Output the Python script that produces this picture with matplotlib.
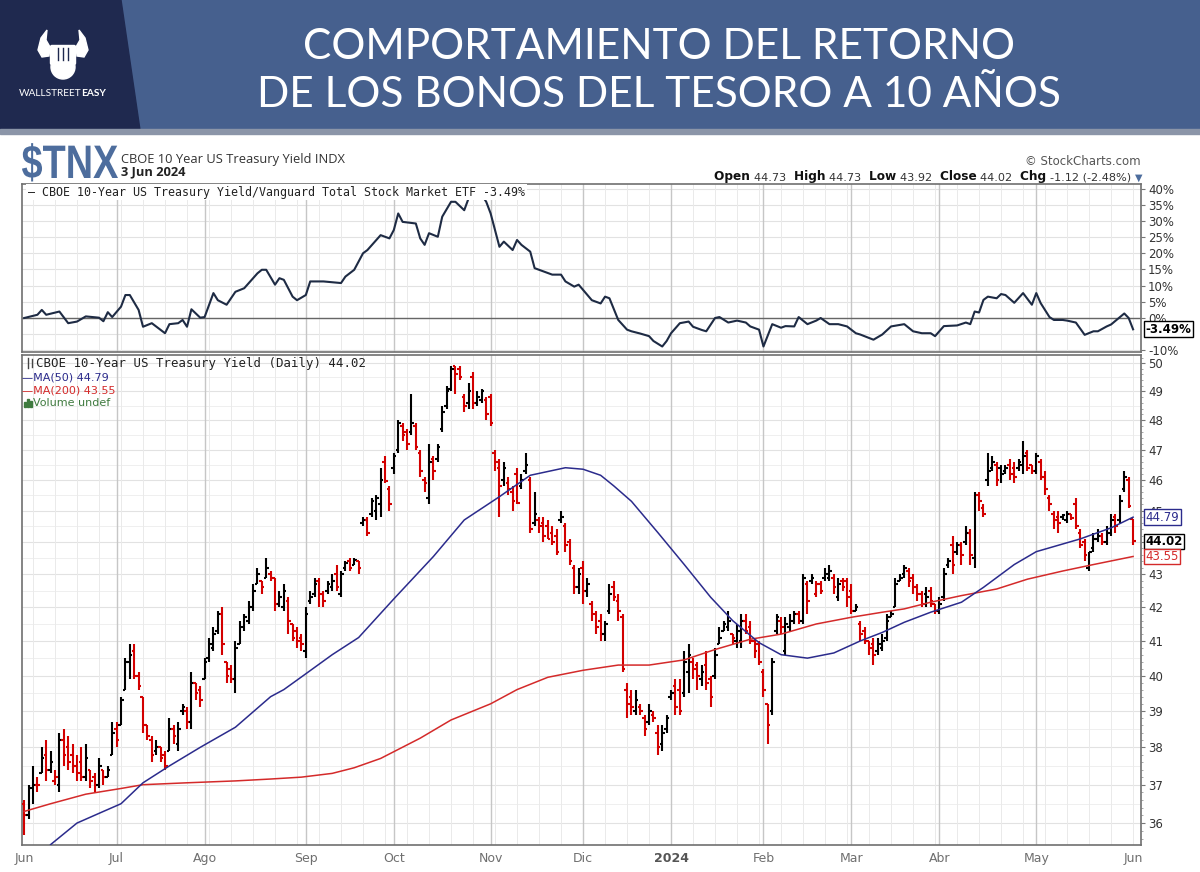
import numpy as np
import matplotlib
matplotlib.use("Agg")
import matplotlib.pyplot as plt
from matplotlib.collections import LineCollection
from matplotlib.patches import Polygon, Rectangle, Circle, FancyBboxPatch, PathPatch
from matplotlib.ticker import FixedLocator, NullFormatter
from matplotlib.textpath import TextPath
from matplotlib.font_manager import FontProperties
from matplotlib.transforms import Affine2D

W, H = 1200, 872

# daily bars, 1 Jun 2023 .. 3 Jun 2024 (yield x10)
opens = [
    36.5, 36.2, 36.9, 37.0, 37.3, 37.8, 37.4, 37.1, 37.0, 38.2, 38.0, 37.8, 37.5, 37.6, 37.2, 37.4, 37.2, 37.0, 37.4, 37.2, 37.8,
    38.5, 38.6, 39.6, 40.4, 40.7, 40.0, 39.4, 38.6, 38.2, 37.9, 38.0, 37.8, 37.9, 38.5, 38.1, 39.0, 39.0, 38.7, 39.8, 39.6,
    39.9, 40.5, 40.8, 41.3, 41.8, 40.4, 40.2, 39.9, 40.9, 41.4, 41.6, 42.0, 42.7, 42.8, 42.9, 43.0, 42.9, 42.1, 42.0, 42.2, 41.5, 41.3, 41.1,
    40.7, 42.2, 42.4, 42.8, 42.4, 42.5, 42.6, 43.0, 42.4, 43.2, 43.4, 43.3, 43.4, 44.6, 44.7, 44.9, 45.0, 45.2, 46.6, 45.7,
    46.4, 47.0, 47.8, 47.6, 47.6, 47.8, 46.9, 46.0, 45.4, 46.7, 46.7, 47.7, 48.5, 49.1, 49.9, 49.8, 48.8, 48.6, 49.5, 48.6, 48.7, 48.7,
    48.8, 46.9, 46.4, 46.0, 45.9, 45.6, 46.2, 45.8, 46.3, 46.0, 44.6, 44.7, 44.6, 44.5, 44.3, 44.2, 44.7, 44.5, 44.0, 43.2, 42.6,
    43.2, 42.5, 42.1, 41.8, 41.6, 41.2, 41.9, 42.6, 42.2, 41.7, 39.6, 39.4, 39.0, 39.1, 38.8, 38.7, 38.9, 38.4, 38.1, 38.5,
    39.4, 39.7, 39.6, 39.5, 40.1, 40.4, 40.3, 39.9, 40.3, 39.9, 40.0, 40.9, 41.3, 41.4, 41.2, 41.0, 41.0, 41.6, 41.4, 41.0, 40.9,
    40.1, 39.2, 39.0, 41.3, 41.6, 40.7, 41.4, 41.6, 41.8, 41.6, 42.7, 42.8, 42.4, 42.7, 42.9, 42.9, 42.9, 42.3, 42.8, 42.8,
    42.5, 41.9, 41.5, 41.3, 41.0, 40.9, 40.7, 40.8, 41.1, 41.7, 42.0, 42.8, 43.0, 43.1, 42.9, 42.6, 42.4, 42.4, 42.5, 42.1,
    41.9, 42.3, 43.3, 43.9, 43.7, 43.9, 44.0, 44.3, 43.5, 45.5, 45.1, 46.0, 46.4, 46.5, 46.4, 46.3, 46.5, 46.4, 46.4, 46.5, 46.9, 46.5,
    46.3, 46.6, 46.1, 45.4, 44.9, 44.8, 44.8, 44.7, 44.9, 45.2, 44.3, 44.0, 43.2, 43.8, 44.1, 44.2, 44.0, 44.3, 44.8, 44.7, 45.7, 46.0,
    44.73,
]
highs = [
    36.6, 37.0, 37.5, 37.2, 38.0, 38.2, 37.9, 37.4, 38.4, 38.5, 38.3, 38.1, 37.8, 38.0, 38.1, 37.4, 37.3, 37.7, 37.4, 37.5, 38.7,
    38.7, 39.4, 40.5, 40.9, 40.9, 40.1, 39.4, 38.6, 38.3, 38.2, 38.0, 37.9, 38.8, 38.6, 38.7, 39.2, 39.1, 40.1, 39.8, 39.7,
    40.5, 41.1, 41.4, 41.9, 42.0, 40.4, 40.3, 41.0, 41.6, 41.8, 42.2, 42.7, 43.2, 42.8, 43.5, 43.1, 42.9, 42.5, 42.7, 42.3, 41.5, 41.4, 41.2,
    42.0, 42.5, 42.9, 42.9, 42.5, 42.8, 43.0, 43.3, 43.1, 43.4, 43.5, 43.5, 43.4, 44.8, 44.8, 45.4, 45.5, 46.4, 46.8, 45.8,
    46.9, 48.0, 47.9, 47.7, 48.9, 47.9, 47.0, 46.1, 47.2, 46.8, 47.2, 48.5, 49.2, 49.9, 49.9, 49.9, 48.9, 49.3, 49.7, 49.0, 49.1, 48.8,
    48.9, 47.0, 46.7, 46.6, 46.1, 45.8, 46.4, 46.2, 46.9, 46.1, 45.6, 44.8, 44.8, 44.7, 44.5, 44.4, 45.0, 44.6, 44.1, 43.3, 43.2,
    43.4, 42.9, 42.2, 41.9, 41.8, 41.6, 42.7, 42.8, 42.4, 41.8, 39.8, 39.6, 39.6, 39.2, 38.9, 39.2, 39.0, 38.6, 38.6, 38.9,
    39.6, 39.9, 39.9, 40.7, 40.9, 40.5, 40.4, 40.3, 40.7, 40.0, 40.8, 41.4, 41.6, 41.9, 41.2, 41.5, 41.8, 41.8, 41.6, 41.1, 41.0,
    40.2, 39.2, 40.5, 41.8, 41.7, 41.7, 41.8, 41.9, 41.9, 43.0, 42.8, 43.0, 42.8, 42.8, 43.2, 43.3, 43.0, 42.9, 42.9, 42.9,
    42.7, 42.1, 41.6, 41.4, 41.0, 41.1, 41.1, 41.2, 41.8, 41.9, 42.9, 43.0, 43.3, 43.2, 43.0, 42.7, 42.5, 42.6, 42.6, 42.1,
    42.3, 43.2, 43.5, 44.2, 44.0, 44.0, 44.5, 44.4, 45.6, 45.6, 45.2, 46.9, 46.8, 46.6, 46.5, 46.5, 46.7, 46.6, 46.7, 47.3, 47.0, 46.5,
    46.9, 46.7, 46.3, 45.5, 45.0, 45.0, 44.9, 45.0, 44.9, 45.4, 44.4, 44.1, 43.7, 44.3, 44.4, 44.3, 44.5, 44.9, 44.9, 45.5, 46.3, 46.1,
    44.73,
]
lows = [
    35.7, 36.1, 36.5, 36.8, 37.3, 37.1, 37.3, 37.0, 36.8, 37.5, 37.4, 37.3, 37.1, 37.1, 37.1, 36.9, 36.8, 36.9, 37.0, 37.2, 37.8,
    38.0, 38.6, 39.6, 39.9, 39.9, 39.6, 38.4, 38.2, 37.6, 37.8, 37.6, 37.4, 37.9, 38.1, 37.9, 38.9, 38.5, 38.5, 39.3, 39.1,
    39.9, 40.4, 40.7, 41.2, 40.6, 39.8, 39.8, 39.5, 40.9, 41.3, 41.5, 41.9, 42.7, 42.4, 42.9, 42.8, 41.9, 42.0, 41.9, 41.2, 41.0, 40.8, 40.7,
    40.5, 42.1, 42.3, 42.0, 42.0, 42.4, 42.5, 42.5, 42.3, 43.1, 43.1, 43.3, 43.0, 44.5, 44.2, 44.8, 44.7, 44.8, 45.9, 45.0,
    46.2, 46.9, 47.3, 47.0, 47.5, 47.0, 46.1, 45.6, 45.2, 46.0, 46.6, 47.6, 48.4, 49.0, 48.9, 49.4, 48.3, 48.4, 48.4, 48.5, 48.6, 48.0,
    47.8, 46.3, 44.8, 45.8, 45.5, 45.0, 45.2, 45.7, 46.2, 44.3, 44.5, 44.3, 44.0, 44.1, 43.9, 43.6, 44.6, 43.7, 43.3, 42.4, 42.4,
    42.1, 42.3, 41.6, 41.2, 41.0, 41.0, 41.8, 42.2, 41.6, 40.1, 38.8, 38.9, 38.9, 38.9, 38.3, 38.6, 38.7, 37.8, 37.9, 38.4,
    39.3, 38.9, 38.9, 39.4, 39.5, 39.9, 39.6, 39.7, 39.6, 39.1, 39.9, 40.9, 41.3, 41.3, 40.9, 40.8, 40.8, 41.2, 40.9, 40.5, 40.3,
    39.4, 38.1, 38.9, 41.2, 41.2, 40.6, 41.3, 41.5, 41.5, 41.5, 41.8, 42.7, 42.3, 42.4, 42.8, 42.8, 42.4, 42.2, 42.5, 42.0,
    41.8, 41.9, 41.0, 40.9, 40.6, 40.3, 40.6, 40.7, 41.0, 41.7, 42.0, 42.8, 42.9, 42.6, 42.4, 42.2, 42.0, 42.0, 42.0, 41.8,
    41.8, 42.2, 43.2, 43.0, 43.6, 43.3, 43.9, 43.3, 43.2, 45.0, 44.8, 45.8, 46.3, 45.8, 45.9, 46.2, 46.0, 45.9, 46.3, 46.2, 46.3, 46.2,
    46.2, 46.0, 45.5, 45.0, 44.4, 44.3, 44.7, 44.6, 44.7, 44.4, 43.8, 43.4, 43.1, 43.7, 44.0, 43.9, 43.9, 44.2, 44.3, 44.6, 45.6, 45.1,
    43.92,
]
closes = [
    36.2, 36.9, 37.0, 37.0, 37.7, 37.4, 37.6, 37.2, 38.2, 37.8, 37.6, 37.5, 37.3, 37.2, 37.7, 37.1, 37.0, 37.5, 37.2, 37.4, 38.4,
    38.2, 39.3, 40.4, 40.6, 40.0, 39.7, 38.6, 38.3, 37.8, 38.0, 37.7, 37.5, 38.5, 38.3, 38.5, 39.1, 38.7, 39.8, 39.5, 39.3,
    40.4, 40.9, 41.2, 41.8, 40.9, 40.0, 39.9, 40.8, 41.4, 41.7, 42.0, 42.5, 43.0, 42.6, 43.2, 42.9, 42.1, 42.3, 42.5, 41.6, 41.1, 41.0, 40.9,
    41.8, 42.3, 42.7, 42.4, 42.2, 42.7, 42.8, 42.6, 43.0, 43.35, 43.2, 43.45, 43.2, 44.7, 44.3, 45.3, 45.4, 46.0, 45.95, 45.2,
    46.8, 47.9, 47.5, 47.2, 47.9, 47.1, 46.3, 45.9, 46.6, 46.3, 47.1, 48.3, 49.0, 49.8, 49.6, 49.5, 48.5, 49.0, 48.6, 48.8, 49.0, 48.2,
    47.9, 46.6, 45.8, 46.4, 45.7, 45.3, 45.25, 46.0, 46.5, 44.4, 44.9, 44.5, 44.2, 44.1, 44.0, 43.7, 44.8, 43.9, 43.4, 42.6, 43.0,
    42.5, 42.7, 41.8, 41.4, 41.2, 41.5, 42.4, 42.3, 41.9, 40.2, 39.2, 39.1, 39.3, 39.0, 38.5, 39.0, 38.8, 38.0, 38.4, 38.8,
    39.5, 39.1, 39.0, 40.4, 40.6, 40.2, 40.0, 40.1, 39.8, 39.4, 40.6, 41.1, 41.5, 41.6, 41.1, 41.3, 41.6, 41.3, 41.0, 40.7, 40.4,
    39.6, 38.6, 40.4, 41.7, 41.4, 41.5, 41.6, 41.8, 41.6, 42.9, 42.2, 42.9, 42.7, 42.5, 43.0, 43.1, 42.6, 42.7, 42.6, 42.3,
    41.9, 42.0, 41.2, 41.0, 40.8, 40.6, 40.9, 41.0, 41.6, 41.8, 42.7, 42.9, 43.2, 42.8, 42.6, 42.4, 42.1, 42.3, 42.2, 41.9,
    42.1, 43.0, 43.4, 43.3, 43.9, 43.6, 44.3, 43.6, 45.5, 45.3, 44.9, 46.3, 46.6, 46.0, 46.2, 46.4, 46.2, 46.1, 46.6, 46.8, 46.4, 46.3,
    46.8, 46.1, 45.7, 45.2, 44.7, 44.6, 44.85, 44.9, 44.75, 44.5, 43.9, 43.6, 43.7, 44.1, 44.2, 44.0, 44.3, 44.7, 44.5, 45.3, 46.1, 45.14,
    44.02,
]

month_labels = ["Jun", "Jul", "Ago", "Sep", "Oct", "Nov", "Dic", "2024", "Feb", "Mar", "Abr", "May", "Jun"]
month_starts = [0, 21, 41, 64, 84, 106, 127, 147, 168, 188, 208, 230, 252]

# moving averages (bar index, value)
ma50_idx = [6, 12, 18, 22, 27, 33, 40, 48, 56, 59, 64, 70, 76, 84, 93, 100, 108, 115, 123, 127, 131, 134, 138, 144, 150,
            156, 161, 167, 172, 178, 184, 190, 195, 200, 206, 213, 218, 225, 230, 240, 247, 252]
ma50_val = [35.45, 36.0, 36.3, 36.5, 37.05, 37.5, 38.0, 38.55, 39.4, 39.6, 40.05, 40.6, 41.1, 42.25, 43.55, 44.7, 45.45,
            46.15, 46.4, 46.35, 46.15, 45.8, 45.3, 44.3, 43.3, 42.3, 41.6, 40.95, 40.6, 40.5, 40.65, 41.0, 41.25, 41.55,
            41.85, 42.15, 42.6, 43.3, 43.7, 44.1, 44.45, 44.79]
ma200_idx = [0, 6, 14, 22, 27, 37, 48, 56, 63, 70, 75, 81, 90, 97, 106, 112, 119, 127, 135, 142, 150, 157, 165, 172, 180,
             188, 195, 200, 206, 213, 221, 228, 236, 243, 252]
ma200_val = [36.3, 36.5, 36.75, 36.9, 37.0, 37.05, 37.1, 37.15, 37.2, 37.3, 37.45, 37.7, 38.25, 38.75, 39.2, 39.6, 39.95,
             40.15, 40.3, 40.3, 40.45, 40.75, 41.05, 41.2, 41.5, 41.7, 41.85, 41.95, 42.15, 42.35, 42.55, 42.85, 43.1,
             43.3, 43.55]

# ratio $TNX : VTI, % change (bar index, value)
ratio_idx = [0, 3, 4, 5, 8, 10, 12, 14, 17, 18, 19, 20, 22, 23, 24, 26, 27, 29, 32, 33, 35, 36, 37, 38, 40, 41, 43, 44,
             46, 48, 50, 53, 54, 55, 57, 58, 59, 61, 62, 64, 65, 68, 72, 73, 75, 77, 78, 80, 81, 83, 84, 85, 86, 89, 90,
             91, 92, 94, 95, 97, 98, 100, 101, 102, 104, 105, 106, 107, 108, 109, 111, 112, 113, 115, 116, 117, 120, 122,
             123, 125, 126, 128, 129, 131, 132, 133, 135, 137, 138, 140, 142, 143, 145, 146, 147, 149, 151, 152, 154, 155,
             157, 158, 160, 162, 164, 165, 167, 168, 170, 172, 173, 175, 176, 178, 180, 181, 183, 185, 187, 189, 190, 193,
             195, 197, 200, 202, 204, 206, 207, 209, 212, 214, 215, 216, 217, 218, 219, 221, 222, 223, 225, 227, 229, 230,
             231, 233, 234, 236, 237, 239, 241, 243, 244, 246, 247, 250, 251, 252]
ratio_val = [0.0, 1.0, 2.5, 1.0, 2.0, -1.6, -1.1, 0.5, 0.1, -1.0, 1.8, 0.3, 3.5, 7.1, 7.1, 2.5, -2.7, -1.6, -4.7, -1.9,
             -1.6, -0.6, -2.7, 2.7, 0.1, 0.3, 7.7, 5.5, 4.1, 8.1, 9.2, 13.8, 14.9, 14.9, 10.3, 12.3, 11.8, 6.6, 5.5, 7.1,
             11.3, 11.3, 10.8, 12.8, 14.9, 20.0, 21.0, 24.1, 25.6, 24.6, 27.2, 32.3, 29.7, 29.2, 24.6, 22.6, 26.2, 25.1,
             31.3, 35.9, 35.9, 33.3, 37.0, 38.5, 38.0, 35.9, 32.3, 27.2, 22.0, 23.6, 21.0, 24.1, 22.6, 20.5, 15.4, 14.9,
             13.4, 13.4, 11.3, 9.7, 10.3, 7.1, 5.5, 4.5, 6.6, 6.1, -0.6, -3.6, -4.1, -4.8, -5.6, -7.1, -8.8, -7.1, -4.7,
             -1.6, -1.1, -2.7, -3.7, -4.1, 0.0, 0.3, -1.4, -0.8, -1.4, -2.6, -3.6, -8.8, -1.9, -3.0, -2.5, -2.6, 0.3, -1.9,
             -0.8, 0.0, -1.9, -1.9, -2.6, -4.7, -5.1, -6.7, -5.1, -2.6, -1.9, -4.1, -4.7, -4.7, -5.6, -2.5, -2.3, -1.4,
             -1.9, 2.0, 1.7, 5.6, 6.6, 6.1, 7.4, 7.1, 4.7, 7.7, 4.1, 7.7, 4.6, 0.3, -0.6, -0.6, -0.8, -1.4, -5.2, -4.1,
             -4.1, -2.6, -2.0, 1.4, 0.0, -3.49]

price_ticks = list(range(36, 51))
price_labels = ["" if v == 44 else str(v) for v in price_ticks]  # 44 sits under the close callout
ratio_ticks = [40, 35, 30, 25, 20, 15, 10, 5, 0, -10]

RED = "#d30000"
NAVY = "#2b2b8c"
MA_RED = "#d42a2a"
GRID = "#e2e2e2"
MONTH_GRID = "#c6c6c6"
MONO = "DejaVu Sans Mono"

fig = plt.figure(figsize=(W / 100, H / 100), dpi=100)
fig.patch.set_facecolor("white")


def px_axes(left, top, right, bottom):
    return fig.add_axes([left / W, 1 - bottom / H, (right - left) / W, (bottom - top) / H])


def squeezed_text(target, s, left, baseline, width, size, color, family, weight="bold"):
    # draw text as a path, squeezed to a given pixel width (condensed look)
    tp = TextPath((0, 0), s, size=size, prop=FontProperties(family=family, weight=weight))
    ext = tp.get_extents()
    sx = width / ext.width
    path = Affine2D().translate(-ext.x0, 0).scale(sx, -1).translate(left, baseline).transform_path(tp)
    target.add_patch(PathPatch(path, color=color, lw=0, zorder=4))


# background layer in pixel coordinates (header, titles)
bg = px_axes(0, 0, W, H)
bg.set_xlim(0, W)
bg.set_ylim(H, 0)
bg.axis("off")
bg.set_zorder(0)

# header band
bg.add_patch(Rectangle((0, 0), W, 130, color="#46608e", zorder=1))
bg.add_patch(Polygon([(0, 0), (121, 0), (140, 130), (0, 130)], closed=True, color="#1f294f", zorder=2))
bg.add_patch(Rectangle((0, 129), W, 5, color="#8b95a8", zorder=2))

# simple logo
bg.add_patch(Polygon([(38, 50), (41, 38), (47, 30), (46, 40), (50, 47), (49, 56), (42, 57)], closed=True,
                     color="white", zorder=3))
bg.add_patch(Polygon([(88, 50), (85, 38), (79, 30), (80, 40), (76, 47), (77, 56), (84, 57)], closed=True,
                     color="white", zorder=3))
bg.add_patch(Circle((63, 67), 12, color="white", zorder=3))
bg.add_patch(FancyBboxPatch((52, 47), 22, 16, boxstyle="round,pad=1.5", color="white", zorder=3))
for fx in (58, 63, 68):
    bg.plot([fx, fx], [48, 60], color="#1f294f", lw=1.0, zorder=4)
wt = bg.text(19, 96, "WALLSTREET", color="white", fontsize=7.3, family="Lato", va="baseline", zorder=4)
bg.annotate("EASY", xy=(1, 0), xycoords=wt, va="bottom", color="white", fontsize=7.3, family="Lato",
            fontweight="bold", zorder=4)

title_kw = dict(color="white", fontsize=30.5, family="Lato", fontweight="normal", ha="center", va="center", zorder=4)
bg.text(659, 47, "COMPORTAMIENTO DEL RETORNO", **title_kw)
bg.text(659, 95, "DE LOS BONOS DEL TESORO A 10 AÑOS", **title_kw)

# chart header
squeezed_text(bg, "$TNX", 22, 178, 96, 47, "#4d6d9d", "Liberation Sans")
bg.text(121, 163, "CBOE 10 Year US Treasury Yield INDX", color="#333333", fontsize=9.3,
        family="Open Sans", va="baseline")
bg.text(121, 175, "3 Jun 2024", color="#222222", fontsize=9.3, fontweight="bold",
        family="Open Sans", va="baseline")
bg.text(1141, 165, "© StockCharts.com", color="#555555", fontsize=8.5, ha="right", va="baseline")

parts = [("Open ", True), ("44.73  ", False), ("High ", True), ("44.73  ", False), ("Low ", True),
         ("43.92  ", False), ("Close ", True), ("44.02  ", False), ("Chg ", True), ("-1.12 (-2.48%) ", False)]
prev = None
for s, bold in parts:
    kw = dict(color="#111111" if bold else "#333333", fontsize=8.7 if bold else 8.1,
              fontweight="bold" if bold else "normal", va="bottom")
    if prev is None:
        prev = bg.text(714, 183, s, **kw)
    else:
        prev = bg.annotate(s, xy=(1, 0), xycoords=prev, **kw)
bg.annotate("▼", xy=(1, 0), xycoords=prev, color="#4d6d9d", fontsize=7, va="bottom")

# ---- upper panel: ratio ----
ax_r = px_axes(22, 184, 1141, 352)
ax_r.set_zorder(2)
ax_r.set_facecolor("white")
ax_r.set_xlim(-0.5, 253.8)
ax_r.set_ylim(-10.5, 41.4)
for v in range(-10, 41, 5):
    ax_r.axhline(v, color=GRID, lw=0.8, zorder=0)
ax_r.axhline(0, color="#666666", lw=1.0, zorder=1)

# ---- lower panel: price bars ----
ax = px_axes(22, 355, 1141, 845)
ax.set_zorder(2)
ax.set_facecolor("white")
ax.set_yscale("log")
ax.set_xlim(-0.5, 253.8)
ax.set_ylim(35.44, 50.29)
for v in price_ticks:
    ax.axhline(v, color=GRID, lw=0.8, zorder=0)
    ax.axhline(v + 0.5, color="#efefef", lw=0.7, zorder=0)

for a in (ax, ax_r):
    for wk in range(2, 253, 5):
        a.axvline(wk, color="#eaeaea", lw=0.7, zorder=0)
    for m in month_starts[1:-1]:
        a.axvline(m, color=MONTH_GRID, lw=1.0, zorder=0)
    for sp in a.spines.values():
        sp.set_color("#707070")
        sp.set_linewidth(1.2)

ax_r.plot(ratio_idx, ratio_val, color="#1e2b44", lw=1.5, zorder=3)

# OHLC bars, black if close above previous close, red otherwise
segs, cols = [], []
for i in range(len(closes)):
    c = RED if i == 0 or closes[i] <= closes[i - 1] else "black"
    segs += [[(i, lows[i]), (i, highs[i])],
             [(i - 0.6, opens[i]), (i, opens[i])],
             [(i, closes[i]), (i + 0.6, closes[i])]]
    cols += [c, c, c]
ax.add_collection(LineCollection(segs, colors=cols, linewidths=1.5, capstyle="butt", zorder=3))

ax.plot(ma200_idx, ma200_val, color=MA_RED, lw=1.1, zorder=4)
ax.plot(ma50_idx, ma50_val, color=NAVY, lw=1.1, zorder=4)

# right axis labels
ax.yaxis.tick_right()
ax.yaxis.set_major_locator(FixedLocator(price_ticks))
ax.set_yticklabels(price_labels)
ax.yaxis.set_minor_locator(FixedLocator([v / 5 for v in range(178, 252)]))
ax.yaxis.set_minor_formatter(NullFormatter())
ax.tick_params(axis="y", which="major", length=3, color="#777777", labelsize=8.5, labelcolor="#333333", pad=2)
ax.tick_params(axis="y", which="minor", length=1.5, color="#999999")

ax_r.yaxis.tick_right()
ax_r.set_yticks(ratio_ticks)
ax_r.set_yticklabels([f"{v}%" for v in ratio_ticks])
ax_r.tick_params(axis="y", length=3, color="#777777", labelsize=8.5, labelcolor="#333333", pad=2)
ax_r.set_xticks([])

ax.set_xticks(month_starts)
ax.set_xticklabels(month_labels)
ax.tick_params(axis="x", length=0, labelsize=9, labelcolor="#6f6f6f", pad=5)
for lbl in ax.get_xticklabels():
    if lbl.get_text() == "2024":
        lbl.set_fontweight("bold")
        lbl.set_color("#555555")

# value callouts on the right edge
yt = ax.get_yaxis_transform()
for val, txt, col, bold in [(44.79, "44.79", NAVY, False), (44.02, "44.02", "black", True),
                            (43.55, "43.55", MA_RED, False)]:
    ax.text(1.004, val, txt, transform=yt, ha="left", va="center", fontsize=8.5, color=col,
            fontweight="bold" if bold else "normal", zorder=6,
            bbox=dict(boxstyle="square,pad=0.12", fc="white", ec=col, lw=1.0))
ax_r.text(1.004, -3.49, "-3.49%", transform=ax_r.get_yaxis_transform(), ha="left", va="center",
          fontsize=8.5, fontweight="bold", color="black", zorder=6,
          bbox=dict(boxstyle="square,pad=0.12", fc="white", ec="black", lw=1.0))

# panel legends
ax_r.text(28, 192, "— CBOE 10-Year US Treasury Yield/Vanguard Total Stock Market ETF -3.49%",
          transform=bg.transData, fontsize=8.4, family=MONO, color="#222222", va="center", zorder=5,
          bbox=dict(boxstyle="square,pad=0.15", fc="white", ec="none"))
ax.text(36, 363, "CBOE 10-Year US Treasury Yield (Daily) 44.02", transform=bg.transData,
        fontsize=8.9, family=MONO, color="#222222", va="center", zorder=5)
ax.plot([28, 28], [358, 368], color="#444444", lw=1, transform=bg.transData, zorder=5)
ax.plot([32, 32], [359, 367], color="#444444", lw=1, transform=bg.transData, zorder=5)
ax.text(22, 377, "—MA(50) 44.79", transform=bg.transData, fontsize=8, color=NAVY, va="center", zorder=5)
ax.text(22, 390, "—MA(200) 43.55", transform=bg.transData, fontsize=8, color=MA_RED, va="center", zorder=5)
ax.text(33, 403, "Volume undef", transform=bg.transData, fontsize=8, color="#3f7a3f", va="center", zorder=5)
for k, hh in enumerate((5, 8, 6)):
    ax.add_patch(Rectangle((24 + 3 * k, 407 - hh), 2, hh, color="#3f7a3f", transform=bg.transData, zorder=5))

fig.savefig("out.png", dpi=100)
